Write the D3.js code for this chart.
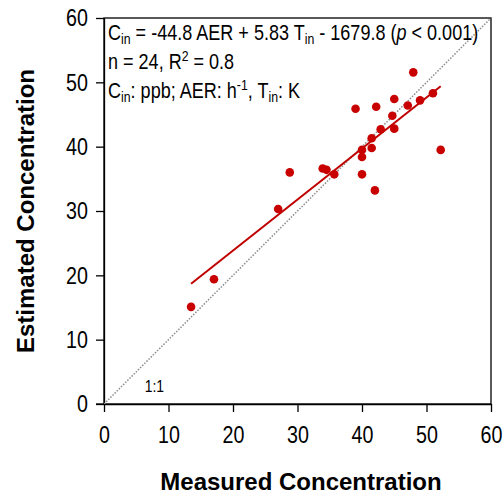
<!DOCTYPE html>
<html>
<head>
<meta charset="utf-8">
<script src="https://cdn.jsdelivr.net/npm/d3@7"></script>
<style>
  body { margin: 0; background: #fff; }
  text { font-family: "Liberation Sans", Arial, sans-serif; }
</style>
</head>
<body>
<div class="chart"></div>
<script>
// measured vs estimated concentration (ppb)
var measured = [13.5, 17.05, 27.0, 28.8, 33.9, 34.5, 35.7, 39.0, 40.0, 40.0, 40.0, 41.5,
                41.5, 42.0, 42.2, 42.9, 44.7, 45.0, 45.0, 47.1, 47.95, 49.0, 51.0, 52.2];
var estimated = [15.1, 19.4, 30.3, 36.0, 36.6, 36.4, 35.7, 45.9, 39.5, 38.4, 35.7, 41.3,
                 39.8, 33.2, 46.2, 42.7, 44.8, 47.4, 42.8, 46.4, 51.55, 47.2, 48.3, 39.5];
var fitX = [13.5, 52.2];
var fitY = [18.7, 49.4];
var tickValues = [0, 10, 20, 30, 40, 50, 60];

var svgWidth = 503;
var svgHeight = 496;
var margin = { top: 18, right: 12, bottom: 92, left: 104 };
var width = svgWidth - margin.left - margin.right;
var height = svgHeight - margin.top - margin.bottom;
var squeeze = 0.82; // no narrow font installed, so compress horizontally

var svg = d3.select(".chart")
  .append("svg")
  .attr("width", svgWidth)
  .attr("height", svgHeight);

var chartGroup = svg.append("g")
  .attr("transform", `translate(${margin.left}, ${margin.top})`);

var x = d3.scaleLinear().domain([0, 60]).range([0, width]);
var y = d3.scaleLinear().domain([0, 60]).range([height, 0]);

svg.append("clipPath").attr("id", "clip")
  .append("rect").attr("width", width).attr("height", height);

// frame
chartGroup.append("rect")
  .attr("width", width).attr("height", height)
  .attr("fill", "none").attr("stroke", "#000").attr("stroke-width", 1.3);

var bottomAxis = d3.axisBottom(x).tickValues(tickValues).tickSizeInner(8).tickSizeOuter(0).tickPadding(14);
var leftAxis = d3.axisLeft(y).tickValues(tickValues).tickSizeInner(8).tickSizeOuter(0).tickPadding(16);

var gx = chartGroup.append("g")
  .attr("transform", `translate(0, ${height})`)
  .call(bottomAxis);
var gy = chartGroup.append("g").call(leftAxis);

[gx, gy].forEach(function (g) {
  g.attr("font-family", null);
  g.select(".domain").attr("stroke-width", 1.3);
  g.selectAll(".tick line").attr("stroke-width", 1.3);
  g.selectAll(".tick text")
    .attr("font-size", 24)
    .attr("fill", "#000");
});
gx.selectAll(".tick text").attr("transform", `scale(${squeeze},1)`);
gy.selectAll(".tick text").attr("x", 0).attr("transform", `translate(-16,0) scale(${squeeze},1)`);
// extend bottom line to the left tick
gx.append("line").attr("x1", -8).attr("x2", 0).attr("stroke", "#000").attr("stroke-width", 1.3);

var plot = chartGroup.append("g").attr("clip-path", "url(#clip)");

// 1:1 line
plot.append("line")
  .attr("x1", x(0)).attr("y1", y(0))
  .attr("x2", x(60)).attr("y2", y(60))
  .attr("stroke", "#8c8c8c")
  .attr("stroke-width", 1.5)
  .attr("stroke-dasharray", "1.5,1.5");

// fit line
plot.append("line")
  .attr("x1", x(fitX[0])).attr("y1", y(fitY[0]))
  .attr("x2", x(fitX[1])).attr("y2", y(fitY[1]))
  .attr("stroke", "#c00000")
  .attr("stroke-width", 2);

plot.selectAll("circle")
  .data(measured)
  .enter()
  .append("circle")
  .attr("cx", d => x(d))
  .attr("cy", (d, i) => y(estimated[i]))
  .attr("r", 4.3)
  .attr("fill", "#c80000");

chartGroup.append("text")
  .attr("transform", `translate(${x(6.3)}, ${y(1.9)}) scale(${squeeze},1)`)
  .attr("font-size", 17)
  .text("1:1");

// equation text
var ann = chartGroup.append("g")
  .attr("font-size", 22)
  .attr("transform", `translate(4, 0) scale(${squeeze},1)`);
var l1 = ann.append("text").attr("x", 0).attr("y", 22);
l1.append("tspan").text("C");
l1.append("tspan").attr("font-size", 15).attr("dy", 4).text("in");
l1.append("tspan").attr("dy", -4).text(" = -44.8 AER + 5.83 T");
l1.append("tspan").attr("font-size", 15).attr("dy", 4).text("in");
l1.append("tspan").attr("dy", -4).text(" - 1679.8 (");
l1.append("tspan").attr("font-style", "italic").text("p");
l1.append("tspan").text(" < 0.001)");

var l2 = ann.append("text").attr("x", 0).attr("y", 51);
l2.append("tspan").text("n = 24, R");
l2.append("tspan").attr("font-size", 15).attr("dy", -8).text("2");
l2.append("tspan").attr("dy", 8).text(" = 0.8");

var l3 = ann.append("text").attr("x", 0).attr("y", 80);
l3.append("tspan").text("C");
l3.append("tspan").attr("font-size", 15).attr("dy", 4).text("in");
l3.append("tspan").attr("dy", -4).text(": ppb; AER: h");
l3.append("tspan").attr("font-size", 15).attr("dy", -8).text("-1");
l3.append("tspan").attr("dy", 8).text(", T");
l3.append("tspan").attr("font-size", 15).attr("dy", 4).text("in");
l3.append("tspan").attr("dy", -4).text(": K");

// axis titles
svg.append("text")
  .attr("x", 301).attr("y", 490)
  .attr("text-anchor", "middle")
  .attr("font-size", 24).attr("font-weight", "bold")
  .text("Measured Concentration");

svg.append("text")
  .attr("transform", "translate(34, 211) rotate(-90)")
  .attr("text-anchor", "middle")
  .attr("font-size", 24).attr("font-weight", "bold")
  .text("Estimated Concentration");
</script>
</body>
</html>
